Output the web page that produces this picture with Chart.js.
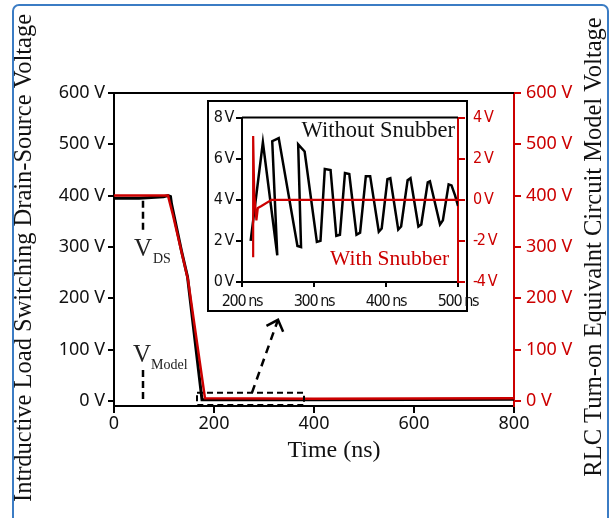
<!DOCTYPE html>
<html>
<head>
<meta charset="utf-8">
<script src="https://cdn.jsdelivr.net/npm/chart.js@4.4.0/dist/chart.umd.min.js"></script>
<style>
  html, body { margin: 0; padding: 0; background: #fff; }
  #wrap { position: relative; width: 615px; height: 518px; overflow: hidden; }
  #main { position: absolute; left: 0; top: 0; }
  #inset { position: absolute; left: 207px; top: 100px; }
</style>
</head>
<body>
<div id="wrap">
  <canvas id="main" width="615" height="518"></canvas>
  <canvas id="inset" width="305" height="215"></canvas>
</div>
<script>
// main plot (time in ns, voltage in V)
var mainTimeTicks = [0, 200, 400, 600, 800];
var mainVoltTicks = [0, 100, 200, 300, 400, 500, 600];
var vdsTime   = [0, 50, 99, 108, 113, 115, 135, 147, 176, 400, 800];
var vdsVolt   = [395, 395, 398, 400, 398, 384, 292, 242, 2, 2, 3];
var modelTime = [0, 108, 118, 148, 182, 400, 800];
var modelVolt = [400, 400, 362, 236, 5, 4, 5];

// inset (time in ns, left axis 0..8 V, right axis -4..4 V)
var insetTimeTicks  = [200, 300, 400, 500];
var insetLeftTicks  = [0, 2, 4, 6, 8];
var insetRightTicks = [-4, -2, 0, 2, 4];
var noSnubTime = [212, 229, 249, 242, 251, 277, 282, 278, 287, 304, 309, 315, 323, 331, 336, 343, 349, 359, 364,
                  372, 378, 390, 394, 402, 406, 417, 421, 430, 434, 445, 449, 458, 461, 475, 479, 487, 491, 496, 500];
var noSnubVolt = [2.0, 6.8, 1.3, 6.85, 7.0, 1.75, 1.7, 6.7, 6.35, 1.95, 2.0, 5.5, 5.45, 2.25, 2.3, 5.3, 5.25, 2.3, 2.4,
                  5.15, 5.15, 2.45, 2.6, 5.0, 5.05, 2.55, 2.7, 4.95, 5.05, 2.7, 2.8, 4.85, 4.9, 2.8, 3.0, 4.75, 4.7, 4.2, 3.7];
var snubTime = [215.5, 215.5, 217, 220, 222, 227, 241, 500];
var snubVolt = [-2.8, 3.1, 0.3, -1.0, -0.4, -0.3, 0, 0];

// annotations, in data units of the main plot
var zoomBoxTime = [166, 380];
var zoomBoxVolt = [-8, 16];
var arrowFrom = [276, 16];
var arrowTo = [328, 158];
var markerTime = 58;
var vdsMarker = [390, 330];
var modelMarker = [60, 0];

var RED = '#cc0000';
var sansFont = "'Noto Sans', sans-serif";
var narrowFont = "'DejaVu Sans Condensed', 'DejaVu Sans', sans-serif";
var serifFont = "'Liberation Serif', serif";

function pts(xs, ys) {
    return xs.map(function(x, i) { return {x: x, y: ys[i]}; });
}
function fixTicks(list) {
    return function(scale) { scale.ticks = list.map(function(v) { return {value: v}; }); };
}

var mainDecor = {
    id: 'mainDecor',
    beforeDraw: function(chart) {
        var ctx = chart.ctx;
        ctx.save();
        ctx.fillStyle = '#fff';
        ctx.fillRect(0, 0, chart.width, chart.height);
        ctx.restore();
    },
    afterDraw: function(chart) {
        var ctx = chart.ctx, a = chart.chartArea;
        var xs = chart.scales.x, ys = chart.scales.y;
        ctx.save();
        // top frame line
        ctx.strokeStyle = '#000';
        ctx.lineWidth = 2;
        ctx.beginPath();
        ctx.moveTo(a.left, a.top);
        ctx.lineTo(a.right, a.top);
        ctx.stroke();

        // dashed zoom box
        ctx.setLineDash([6, 4]);
        ctx.lineWidth = 2;
        var bx0 = xs.getPixelForValue(zoomBoxTime[0]), bx1 = xs.getPixelForValue(zoomBoxTime[1]);
        var by0 = ys.getPixelForValue(zoomBoxVolt[1]), by1 = ys.getPixelForValue(zoomBoxVolt[0]);
        ctx.strokeRect(bx0, by0, bx1 - bx0, by1 - by0);

        // dashed arrow to the inset
        var ax0 = xs.getPixelForValue(arrowFrom[0]), ay0 = ys.getPixelForValue(arrowFrom[1]);
        var ax1 = xs.getPixelForValue(arrowTo[0]), ay1 = ys.getPixelForValue(arrowTo[1]);
        ctx.lineWidth = 2.5;
        ctx.setLineDash([8, 6]);
        ctx.beginPath();
        ctx.moveTo(ax0, ay0);
        ctx.lineTo(ax1, ay1);
        ctx.stroke();
        ctx.setLineDash([]);
        var ang = Math.atan2(ay0 - ay1, ax0 - ax1);
        ctx.beginPath();
        ctx.moveTo(ax1 + 13 * Math.cos(ang - 0.75), ay1 + 13 * Math.sin(ang - 0.75));
        ctx.lineTo(ax1, ay1);
        ctx.lineTo(ax1 + 13 * Math.cos(ang + 0.75), ay1 + 13 * Math.sin(ang + 0.75));
        ctx.stroke();

        // marker lines
        var mx = xs.getPixelForValue(markerTime);
        ctx.setLineDash([7, 4]);
        ctx.lineWidth = 2.5;
        [vdsMarker, modelMarker].forEach(function(m) {
            ctx.beginPath();
            ctx.moveTo(mx, ys.getPixelForValue(m[0]));
            ctx.lineTo(mx, ys.getPixelForValue(m[1]));
            ctx.stroke();
        });
        ctx.setLineDash([]);

        // V_DS and V_Model labels
        ctx.fillStyle = '#222';
        ctx.textBaseline = 'alphabetic';
        ctx.textAlign = 'left';
        ctx.font = '25px ' + serifFont;
        ctx.fillText('V', 134, 256);
        ctx.fillText('V', 133, 362);
        ctx.font = '14px ' + serifFont;
        ctx.fillText('DS', 153, 263);
        ctx.fillText('Model', 151, 369);

        // axis titles
        ctx.fillStyle = '#111';
        ctx.font = '24px ' + serifFont;
        ctx.textAlign = 'center';
        ctx.textBaseline = 'middle';
        ctx.fillText('Time (ns)', 334, 451);
        ctx.font = '24.5px ' + serifFont;
        ctx.save();
        ctx.translate(25, 258);
        ctx.rotate(-Math.PI / 2);
        ctx.fillText('Intrductive Load Switching Drain-Source Voltage', 0, 0);
        ctx.restore();
        ctx.save();
        ctx.translate(595, 247);
        ctx.rotate(-Math.PI / 2);
        ctx.fillText('RLC Turn-on Equivalnt Circuit Model Voltage', 0, 0);
        ctx.restore();

        // blue outer frame
        ctx.strokeStyle = '#3b7cc4';
        ctx.lineWidth = 2;
        ctx.beginPath();
        ctx.roundRect(13, 5, 595, 560, 6);
        ctx.stroke();
        ctx.restore();
    }
};

new Chart(document.getElementById('main'), {
    type: 'line',
    data: {
        datasets: [{
            label: 'V Model',
            data: pts(modelTime, modelVolt),
            borderColor: RED,
            borderWidth: 2.5,
            pointRadius: 0,
            yAxisID: 'y2'
        }, {
            label: 'V DS',
            data: pts(vdsTime, vdsVolt),
            borderColor: '#000',
            borderWidth: 3,
            pointRadius: 0,
            yAxisID: 'y'
        }]
    },
    options: {
        responsive: false,
        animation: false,
        devicePixelRatio: 1,
        layout: { padding: { top: 93, left: 0, right: 0, bottom: 0 } },
        plugins: { legend: { display: false }, tooltip: { enabled: false } },
        scales: {
            x: {
                type: 'linear', min: 0, max: 800,
                afterBuildTicks: fixTicks(mainTimeTicks),
                afterFit: function(s) { s.height = 112; },
                grid: { drawOnChartArea: false, color: '#000', lineWidth: 2, tickLength: 7 },
                border: { color: '#000', width: 2 },
                ticks: { color: '#111', font: { family: sansFont, size: 18 }, padding: 0, maxRotation: 0 }
            },
            y: {
                position: 'left', min: -10, max: 600,
                afterBuildTicks: fixTicks(mainVoltTicks),
                afterFit: function(s) { s.width = 114; },
                grid: { drawOnChartArea: false, color: '#000', lineWidth: 2, tickLength: 6 },
                border: { color: '#000', width: 2 },
                ticks: { color: '#111', font: { family: sansFont, size: 18 }, padding: 3,
                         callback: function(v) { return v + ' V'; } }
            },
            y2: {
                position: 'right', min: -10, max: 600,
                afterBuildTicks: fixTicks(mainVoltTicks),
                afterFit: function(s) { s.width = 101; },
                grid: { drawOnChartArea: false, color: RED, lineWidth: 2, tickLength: 7 },
                border: { color: RED, width: 2 },
                ticks: { color: RED, font: { family: sansFont, size: 18 }, padding: 5,
                         callback: function(v) { return v + ' V'; } }
            }
        }
    },
    plugins: [mainDecor]
});

var insetDecor = {
    id: 'insetDecor',
    beforeDraw: function(chart) {
        var ctx = chart.ctx;
        ctx.save();
        ctx.fillStyle = '#fff';
        ctx.fillRect(0, 1, 260, 210);
        ctx.strokeStyle = '#000';
        ctx.lineWidth = 2;
        ctx.strokeRect(1, 1, 259, 210);
        ctx.restore();
        // squeeze the tick labels a little, like a condensed face
        ctx.letterSpacing = '-1.4px';
    },
    afterDraw: function(chart) {
        var ctx = chart.ctx, a = chart.chartArea;
        ctx.save();
        ctx.letterSpacing = '0px';
        ctx.strokeStyle = '#000';
        ctx.lineWidth = 2;
        ctx.beginPath();
        ctx.moveTo(a.left, a.top);
        ctx.lineTo(a.right, a.top);
        ctx.stroke();
        ctx.textBaseline = 'alphabetic';
        ctx.textAlign = 'right';
        ctx.fillStyle = '#111';
        ctx.font = '22.5px ' + serifFont;
        ctx.fillText('Without Snubber', 248, 37);
        ctx.textAlign = 'left';
        ctx.fillStyle = RED;
        ctx.font = '21.5px ' + serifFont;
        ctx.fillText('With Snubber', 123, 165);
        ctx.restore();
    }
};

new Chart(document.getElementById('inset'), {
    type: 'line',
    data: {
        datasets: [{
            label: 'With Snubber',
            data: pts(snubTime, snubVolt),
            borderColor: RED,
            borderWidth: 2.2,
            pointRadius: 0,
            yAxisID: 'y2'
        }, {
            label: 'Without Snubber',
            data: pts(noSnubTime, noSnubVolt),
            borderColor: '#000',
            borderWidth: 2.5,
            pointRadius: 0,
            yAxisID: 'y'
        }]
    },
    options: {
        responsive: false,
        animation: false,
        devicePixelRatio: 1,
        layout: { padding: { top: 10, left: 0, right: 0, bottom: 0 } },
        plugins: { legend: { display: false }, tooltip: { enabled: false } },
        scales: {
            x: {
                type: 'linear', min: 200, max: 500,
                afterBuildTicks: fixTicks(insetTimeTicks),
                afterFit: function(s) { s.height = 33; },
                grid: { drawOnChartArea: false, color: '#000', lineWidth: 2, tickLength: 5 },
                border: { color: '#000', width: 2 },
                ticks: { color: '#111', font: { family: narrowFont, size: 16 }, padding: 5, maxRotation: 0,
                         callback: function(v) { return v + ' ns'; } }
            },
            y: {
                position: 'left', min: 0, max: 8,
                afterBuildTicks: fixTicks(insetLeftTicks),
                afterFit: function(s) { s.width = 35; },
                grid: { drawOnChartArea: false, color: '#000', lineWidth: 2, tickLength: 6 },
                border: { color: '#000', width: 2 },
                ticks: { color: '#111', font: { family: narrowFont, size: 16 }, padding: 3,
                         callback: function(v) { return v + ' V'; } }
            },
            y2: {
                position: 'right', min: -4, max: 4,
                afterBuildTicks: fixTicks(insetRightTicks),
                afterFit: function(s) { s.width = 54; },
                grid: { drawOnChartArea: false, color: RED, lineWidth: 2, tickLength: 7 },
                border: { color: RED, width: 2 },
                ticks: { color: RED, font: { family: narrowFont, size: 16 }, padding: 8,
                         callback: function(v) { return v + ' V'; } }
            }
        }
    },
    plugins: [insetDecor]
});
</script>
</body>
</html>
